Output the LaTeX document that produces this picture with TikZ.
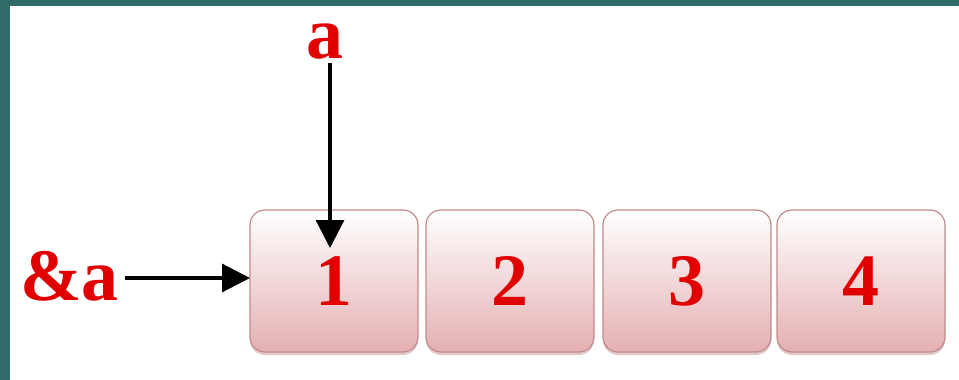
\documentclass[tikz,border=0pt]{standalone}
\usepackage{fontspec}
\setmainfont{Liberation Serif}
\usetikzlibrary{arrows.meta,shadows}
\definecolor{teal1}{HTML}{306B67}
\definecolor{boxpink}{HTML}{E4B0B2}
\definecolor{boxedge}{HTML}{C08A8C}
\definecolor{txtred}{HTML}{E00000}
\tikzset{
  cell/.style={draw=boxedge, line width=1.2pt, rounded corners=15pt,
    top color=white, bottom color=boxpink, minimum width=168pt, minimum height=142pt,
    drop shadow={shadow xshift=0pt, shadow yshift=-3pt, opacity=0.45, fill=boxedge},
    text=txtred, font=\fontsize{74}{74}\selectfont\bfseries, inner sep=0pt},
  lbl/.style={text=txtred, font=\fontsize{74}{74}\selectfont\bfseries, inner sep=0pt},
  arr/.style={line width=3.2pt, -{Triangle[length=28pt,width=28pt]}}
}
\begin{document}
\begin{tikzpicture}[x=1pt,y=-1pt]
\useasboundingbox (0,0) rectangle (959,380);
\fill[white] (0,0) rectangle (959,380);
\fill[teal1] (0,0) rectangle (959,6);
\fill[teal1] (0,0) rectangle (10,380);
\node[cell] (c1) at (334,281) {1};
\node[cell] (c2) at (510,281) {2};
\node[cell] (c3) at (687,281) {3};
\node[cell] (c4) at (861,281) {4};
\node[lbl, anchor=base] (a) at (325,58) {a};
\node[lbl, anchor=base west] (ra) at (20,300) {\&a};
\coordinate (atop) at (330,63);
\coordinate (atip) at (330,248);
\draw[arr] (atop) -- (atip);
\coordinate (rtip) at (250,278);
\draw[arr] (ra.east |- rtip) ++(6,0) -- (rtip);
\end{tikzpicture}
\end{document}
